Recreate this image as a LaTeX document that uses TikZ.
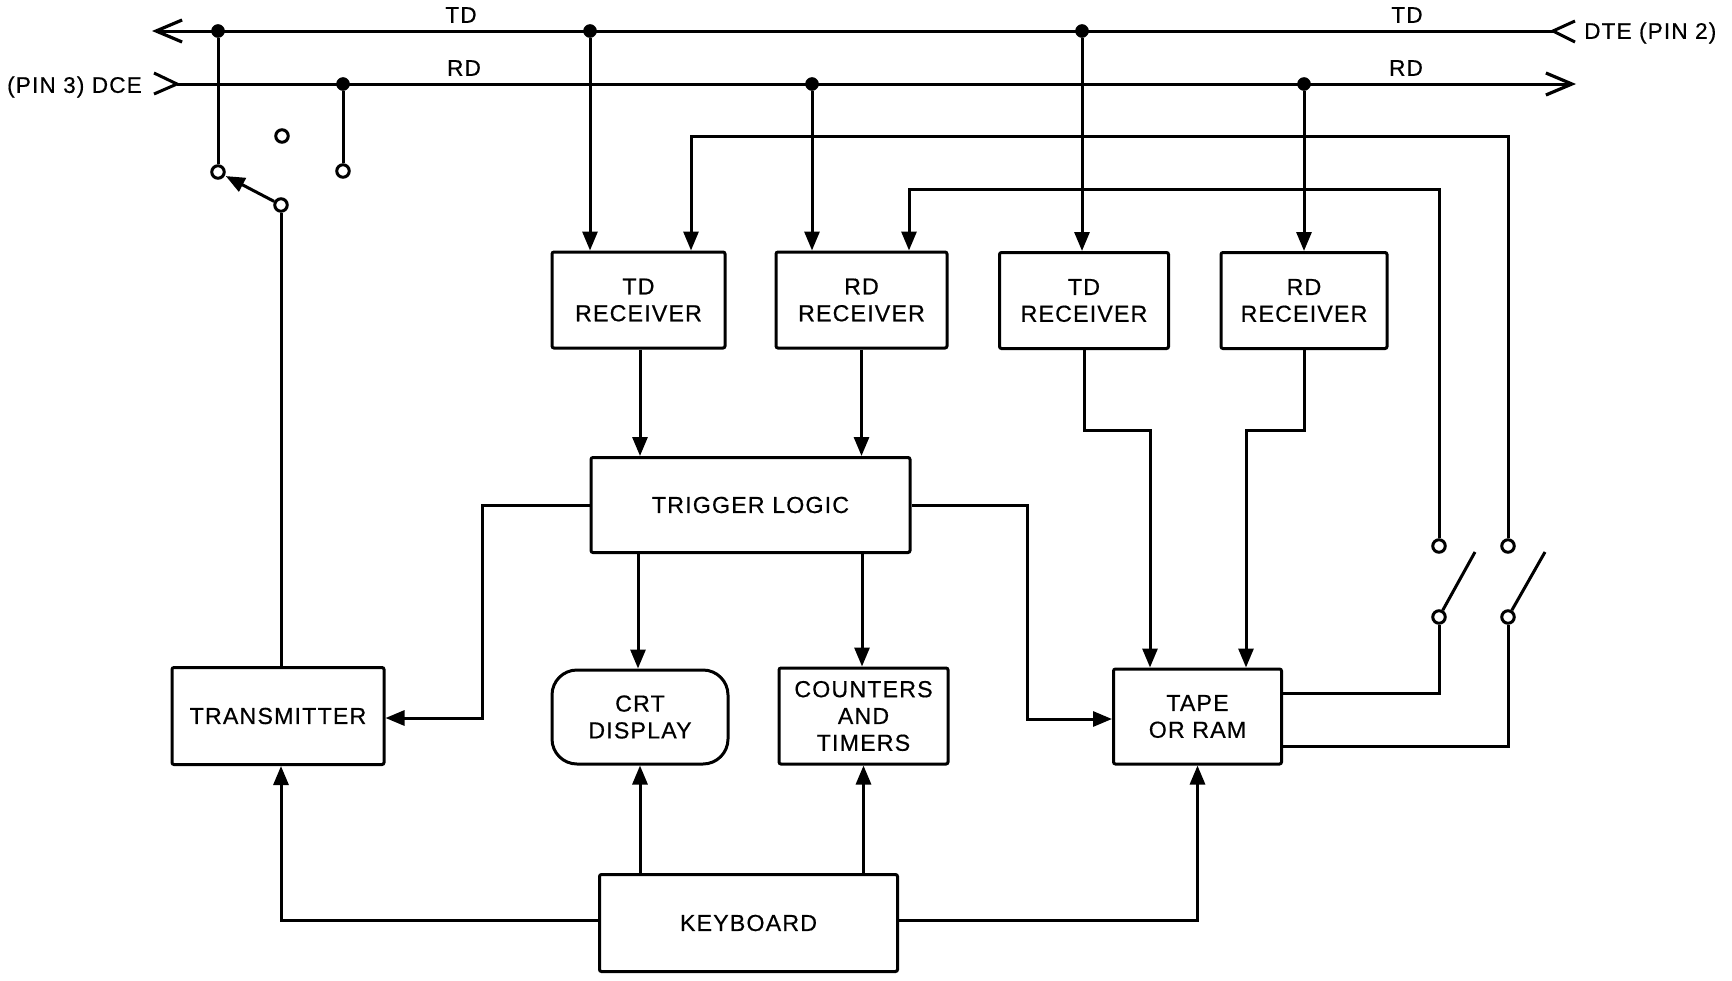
\documentclass[tikz,border=0pt]{standalone}
\usepackage{fontspec}
\setmainfont[LetterSpace=5,FakeBold=0.5]{Liberation Sans}
\usetikzlibrary{arrows.meta,calc}
\tikzset{
  ln/.style={line width=3pt,black},
  conn/.style={ln,-{Triangle[length=19pt,width=15pt]}},
  plain/.style={ln},
  barb/.style={ln,-{Straight Barb[length=26pt,width=22pt,line width=3.2pt]}},
  box/.style={draw,line width=3pt,inner sep=0pt,align=center,rounded corners=2pt,
     font=\fontsize{23.2}{26.8}\selectfont},
  lbl/.style={inner sep=0pt,font=\fontsize{22.6}{26}\selectfont},
  dot/.style={circle,fill=black,draw=black,inner sep=0pt,minimum size=13pt,line width=.5pt},
  ring/.style={circle,fill=white,draw=black,line width=3pt,inner sep=0pt,minimum size=12.5pt},
}
\begin{document}
\begin{tikzpicture}[x=1pt,y=-1pt]
\useasboundingbox[fill=white] (0,0) rectangle (1732,980);
% boxes
\node[box,minimum width=173pt,minimum height=96pt] (tdA) at (638.5,300) {TD\\RECEIVER};
\node[box,minimum width=171pt,minimum height=96pt] (rdA) at (861.5,300) {RD\\RECEIVER};
\node[box,minimum width=169pt,minimum height=96pt] (tdB) at (1084,300.5) {TD\\RECEIVER};
\node[box,minimum width=166pt,minimum height=96pt] (rdB) at (1304,300.5) {RD\\RECEIVER};
\node[box,minimum width=319pt,minimum height=95pt] (trig) at (750.5,505) {TRIGGER LOGIC};
\node[box,minimum width=212pt,minimum height=97pt] (tx) at (278,716) {TRANSMITTER};
\node[box,rounded corners=25pt,minimum width=176pt,minimum height=94pt] (crt) at (640,717) {CRT\\DISPLAY};
\node[box,minimum width=169pt,minimum height=96pt] (cnt) at (863.5,716) {COUNTERS\\AND\\TIMERS};
\node[box,minimum width=168pt,minimum height=95pt] (tape) at (1197.5,716.5) {TAPE\\OR RAM};
\node[box,minimum width=298pt,minimum height=97pt] (kb) at (748.5,923) {KEYBOARD};
% free ends
\coordinate (tdW) at (152,31);
\coordinate (tdE) at (1553,31);
\coordinate (rdW) at (177,84);
\coordinate (rdE) at (1576,84);
% junctions
\node[dot] (j1) at (218,31) {};
\node[dot] (j2) at (343,84) {};
\node[dot] (j3) at (590,31) {};
\node[dot] (j4) at (812,84) {};
\node[dot] (j5) at (1082,31) {};
\node[dot] (j6) at (1304,84) {};
% switch contacts
\node[ring] (s1) at (218,172) {};
\node[ring] (s2) at (281,205) {};
\node[ring] (s3) at (282,136) {};
\node[ring] (s4) at (343,171) {};
\node[ring] (u1) at (1439,546) {};
\node[ring] (u2) at (1508,546) {};
\node[ring] (l1) at (1439,617) {};
\node[ring] (l2) at (1508,617) {};
\coordinate (a1) at (1475,552);
\coordinate (a2) at (1545,552);
% routing corners
\coordinate (b1) at (691,136);
\coordinate (b2) at (909,189);
% buses
\draw[barb] (tdE) -- (tdW);
\draw[plain,line join=miter] (1575,21) -- (tdE) -- (1575,42);
\draw[barb] (rdW) -- (rdE);
\draw[plain,line join=miter] (154,73) -- (rdW) -- (154,94);
% bus taps
\draw[plain] (j1) -- (s1);
\draw[plain] (j2) -- (s4);
\draw[conn] (j3) -- (j3 |- tdA.north);
\draw[conn] (j4) -- (j4 |- rdA.north);
\draw[conn] (j5) -- (j5 |- tdB.north);
\draw[conn] (j6) -- (j6 |- rdB.north);
% switch
\draw[conn,shorten >=1pt] (s2) -- (s1);
\draw[plain] (tx.north -| s2) -- (s2);
\draw[plain] (l1) -- (a1);
\draw[plain] (l2) -- (a2);
% control lines
\draw[conn] (u2) |- (b1) -- (b1 |- tdA.north);
\draw[conn] (u1) |- (b2) -- (b2 |- rdA.north);
\draw[plain] ($(tape.east)+(0,-23.5)$) -| (l1);
\draw[plain] ($(tape.east)+(0,29.5)$) -| (l2);
% receivers to logic
\draw[conn] (640,0 |- tdA.south) -- (640,0 |- trig.north);
\draw[conn] (rdA.south) -- (rdA.south |- trig.north);
\draw[conn] (tdB.south) -- ++(0,80) -| ($(tape.north)+(-47.5,0)$);
\draw[conn] (rdB.south) -- ++(0,80) -| ($(tape.north)+(48.5,0)$);
% logic outputs
\draw[conn] (trig.west) -- ++(-107,0) |- (tx.east |- 0,718);
\draw[conn] (trig.east) -- ++(116,0) |- (tape.west |- 0,719);
\draw[conn] (638,0 |- trig.south) -- (638,0 |- crt.north);
\draw[conn] (862,0 |- trig.south) -- (862,0 |- cnt.north);
% keyboard
\draw[conn] (kb.north -| crt) -- (crt.south);
\draw[conn] (kb.north -| cnt) -- (cnt.south);
\draw[conn] ($(kb.west)+(0,-3)$) -| (tx.south -| s2);
\draw[conn] ($(kb.east)+(0,-3)$) -| (tape.south);
% labels
\node[lbl] (t1) at (461,15) {TD};
\node[lbl] (t2) at (1407,15) {TD};
\node[lbl] (t3) at (464,68) {RD};
\node[lbl] (t4) at (1406,68) {RD};
\node[lbl,anchor=west] (t5) at (1584,33) {DTE (PIN 2)};
\node[lbl,anchor=east] (t6) at (142,87) {(PIN 3) DCE};
\end{tikzpicture}
\end{document}
